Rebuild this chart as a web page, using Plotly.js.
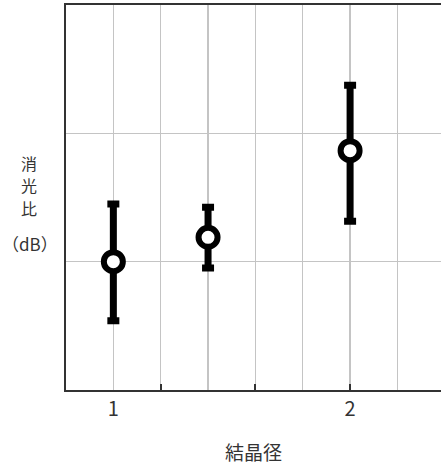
<!DOCTYPE html>
<html>
<head>
<meta charset="utf-8">
<script src="https://cdn.plot.ly/plotly-3.0.1.min.js"></script>
<style>
  html, body { margin: 0; padding: 0; background: #fff; }
  #chart { width: 441px; height: 466px; }
</style>
</head>
<body>
<div id="chart"></div>
<script>
// Crystal diameter positions and extinction ratio (dB) with spread
const diameter = [1.0, 1.4, 2.0];
const extinction = [10.0, 11.9, 18.65];
const spreadPlus = [4.5, 2.35, 5.1];
const spreadMinus = [4.6, 2.4, 5.5];

const labelTicks = [1, 2];
const labelText = ['1', '2'];
const markTicks = [1.2, 1.6, 2.0];

const xTitle = '結晶径';
const yTitleChars = ['消', '光', '比'];
const yTitleUnit = '（dB）';

const FONT = '"Noto Sans CJK JP", "Noto Sans", sans-serif';
const INK = '#333';
const GRID = '#c4c4c4';
const xRange = [0.8, 2.384];
const gridStep = 0.2;

// Grid positions every 0.2 across the axis; only 1 and 2 carry a label
const gridVals = [];
for (let v = 0.8; v <= xRange[1] + 1e-9; v += gridStep) gridVals.push(Math.round(v * 10) / 10);
const gridText = gridVals.map(v => {
  const i = labelTicks.indexOf(v);
  return i >= 0 ? labelText[i] : '';
});

const trace = {
  x: diameter,
  y: extinction,
  type: 'scatter',
  mode: 'markers',
  marker: {
    symbol: 'circle',
    size: 19,
    color: '#fff',
    line: { color: '#000', width: 6 }
  },
  error_y: {
    type: 'data',
    symmetric: false,
    array: spreadPlus,
    arrayminus: spreadMinus,
    color: '#000',
    thickness: 7,
    width: 6
  },
  hoverinfo: 'skip',
  showlegend: false
};

// Vertical axis title: stacked characters plus unit (paper coords)
const yTitleTop = 0.5896;
const yTitlePitch = 0.0584;
const annotations = yTitleChars.map((ch, i) => ({
  text: ch,
  xref: 'paper', yref: 'paper',
  x: -0.0995, y: yTitleTop - i * yTitlePitch,
  xanchor: 'center', yanchor: 'middle',
  showarrow: false,
  borderpad: 0,
  font: { size: 16, color: INK, family: FONT }
}));
annotations.push({
  text: yTitleUnit,
  xref: 'paper', yref: 'paper',
  x: -0.096, y: 0.3805,
  xanchor: 'center', yanchor: 'middle',
  showarrow: false,
  borderpad: 0,
  font: { size: 17, color: INK, family: FONT }
});

const layout = {
  width: 441,
  height: 466,
  margin: { l: 66, r: 0, t: 5, b: 76 },
  paper_bgcolor: '#fff',
  plot_bgcolor: '#fff',
  font: { family: FONT, color: INK },
  xaxis: {
    range: xRange,
    tickmode: 'array',
    tickvals: gridVals,
    ticktext: gridText,
    ticks: '',
    tickfont: { size: 20, color: INK, family: FONT },
    showgrid: true,
    gridcolor: GRID,
    gridwidth: 1.2,
    minor: {
      tickmode: 'array',
      tickvals: markTicks,
      ticks: 'inside',
      ticklen: 6,
      tickwidth: 2,
      tickcolor: INK,
      showgrid: false
    },
    showline: true,
    linecolor: INK,
    linewidth: 2,
    mirror: true,
    zeroline: false,
    title: { text: xTitle, font: { size: 19, color: INK, family: FONT }, standoff: 26 }
  },
  yaxis: {
    range: [0, 30],
    dtick: 10,
    tick0: 0,
    showticklabels: false,
    ticks: '',
    showgrid: true,
    gridcolor: GRID,
    gridwidth: 1.2,
    showline: true,
    linecolor: INK,
    linewidth: 2,
    zeroline: false
  },
  annotations: annotations
};

Plotly.newPlot('chart', [trace], layout, { displayModeBar: false, staticPlot: true });
</script>
</body>
</html>
